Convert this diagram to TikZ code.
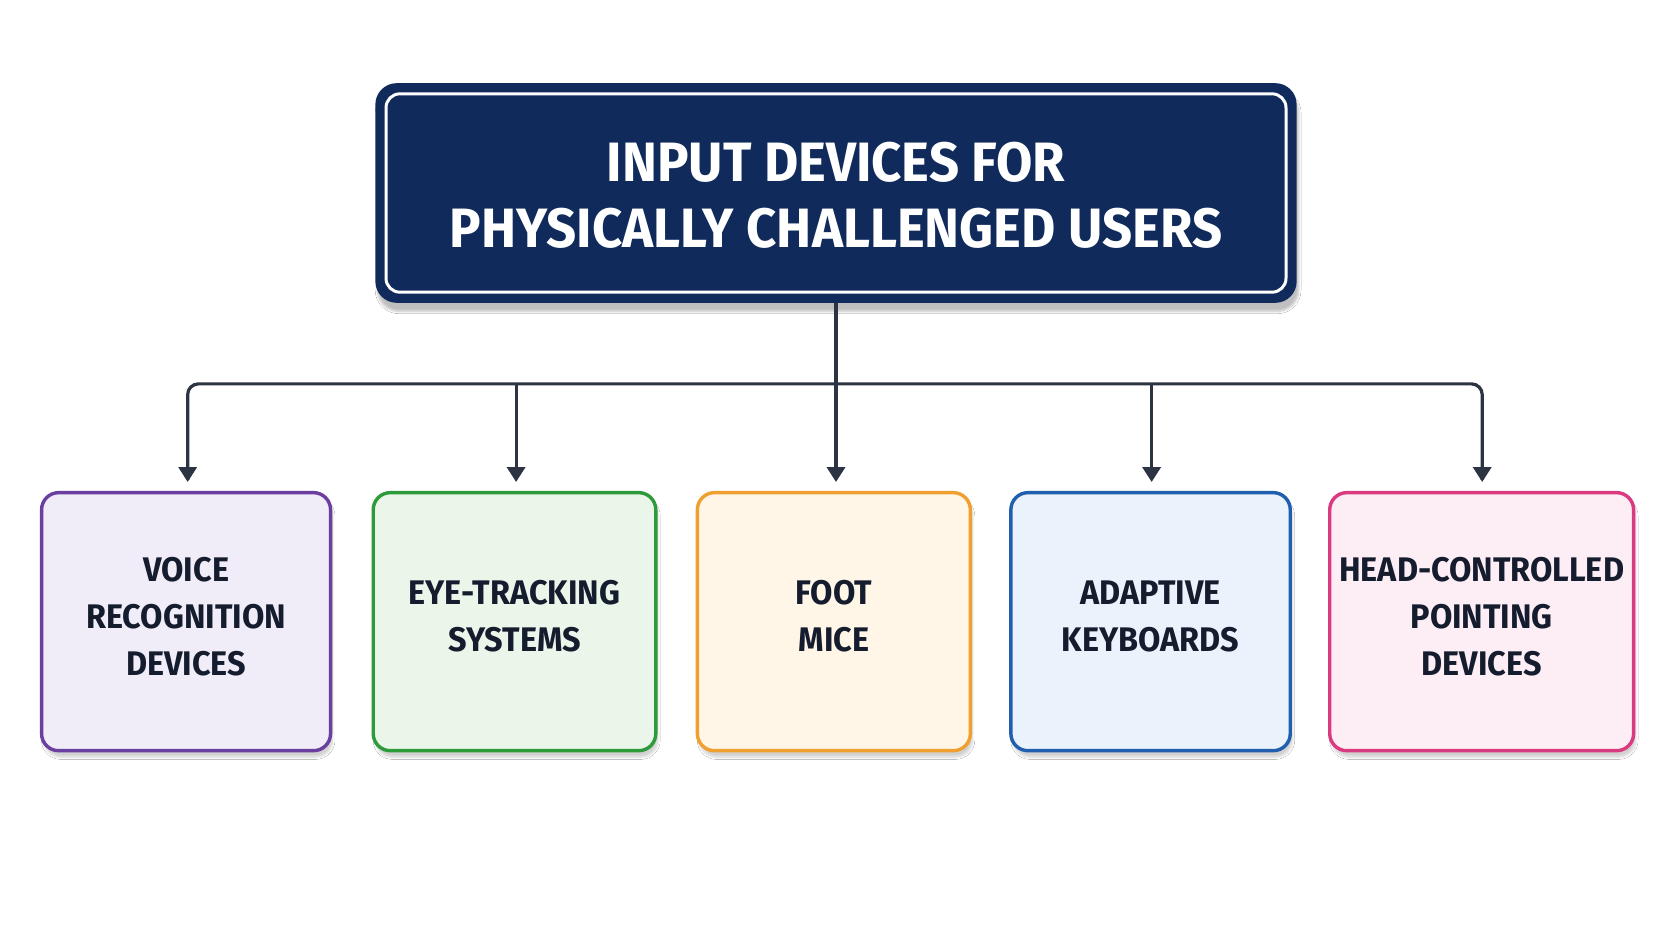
\documentclass[tikz,border=0pt]{standalone}
\usepackage{fontspec}
\setmainfont[FakeStretch=0.95]{Fira Sans}
\usetikzlibrary{shadows.blur,arrows.meta}
\definecolor{navy}{HTML}{102A5C}
\definecolor{ink}{HTML}{141C2E}
\definecolor{cpur}{HTML}{6B3FA0}\definecolor{fpur}{HTML}{F0ECF8}
\definecolor{cgrn}{HTML}{2E9B3A}\definecolor{fgrn}{HTML}{EAF6EA}
\definecolor{corg}{HTML}{F0A030}\definecolor{forg}{HTML}{FFF6E8}
\definecolor{cblu}{HTML}{1F5FAE}\definecolor{fblu}{HTML}{EAF2FC}
\definecolor{cpnk}{HTML}{D93A80}\definecolor{fpnk}{HTML}{FDEEF5}
\begin{document}
\begin{tikzpicture}[x=1pt,y=-1pt,
 leaf/.style={draw=#1,line width=3.2pt,rounded corners=16pt,inner sep=0pt,
   blur shadow={shadow blur steps=8,shadow xshift=2pt,shadow yshift=-6pt,shadow opacity=18},
   font=\fontsize{32}{44}\selectfont\bfseries,text=ink,align=center,text depth=10pt},
 conn/.style={line width=3pt,draw=ink!90},
 arr/.style={conn,-{Triangle[length=14pt,width=17pt]}}]
\useasboundingbox[fill=white] (0,0) rectangle (1568,882);
\node[fill=navy,rounded corners=20pt,minimum width=864pt,minimum height=206pt,
  blur shadow={shadow blur steps=8,shadow xshift=2pt,shadow yshift=-8pt,shadow opacity=25}] (title) at (784,181) {};
\draw[white,line width=2.8pt,rounded corners=13pt] (362,88) rectangle (1206,274);
\node[text=white,font=\fontsize{52}{62}\selectfont\bfseries,align=center] at (784,183)
 {INPUT DEVICES FOR\\PHYSICALLY CHALLENGED USERS};
\node[leaf=cpur,fill=fpur,minimum width=271pt,minimum height=242pt] (a) at (174.5,583) {VOICE\\RECOGNITION\\DEVICES};
\node[leaf=cgrn,fill=fgrn,minimum width=265pt,minimum height=242pt] (b) at (482.5,583) {EYE-TRACKING\\SYSTEMS};
\node[leaf=corg,fill=forg,minimum width=256pt,minimum height=242pt] (c) at (782,583) {FOOT\\MICE};
\node[leaf=cblu,fill=fblu,minimum width=262pt,minimum height=242pt] (d) at (1079,583) {ADAPTIVE\\KEYBOARDS};
\node[leaf=cpnk,fill=fpnk,minimum width=285pt,minimum height=242pt] (e) at (1389.5,583) {HEAD-CONTROLLED\\POINTING\\DEVICES};
\coordinate (j) at (784,360);
\draw[conn] (title.south) -- (j);
\draw[conn,rounded corners=10pt] (176,450) -- (176,360) -- (1390,360) -- (1390,450);
\draw[arr] (176,380) -- (176,452);
\draw[arr] (484,360) -- (484,452);
\draw[arr] (j) -- (784,452);
\draw[arr] (1080,360) -- (1080,452);
\draw[arr] (1390,380) -- (1390,452);
\end{tikzpicture}
\end{document}
